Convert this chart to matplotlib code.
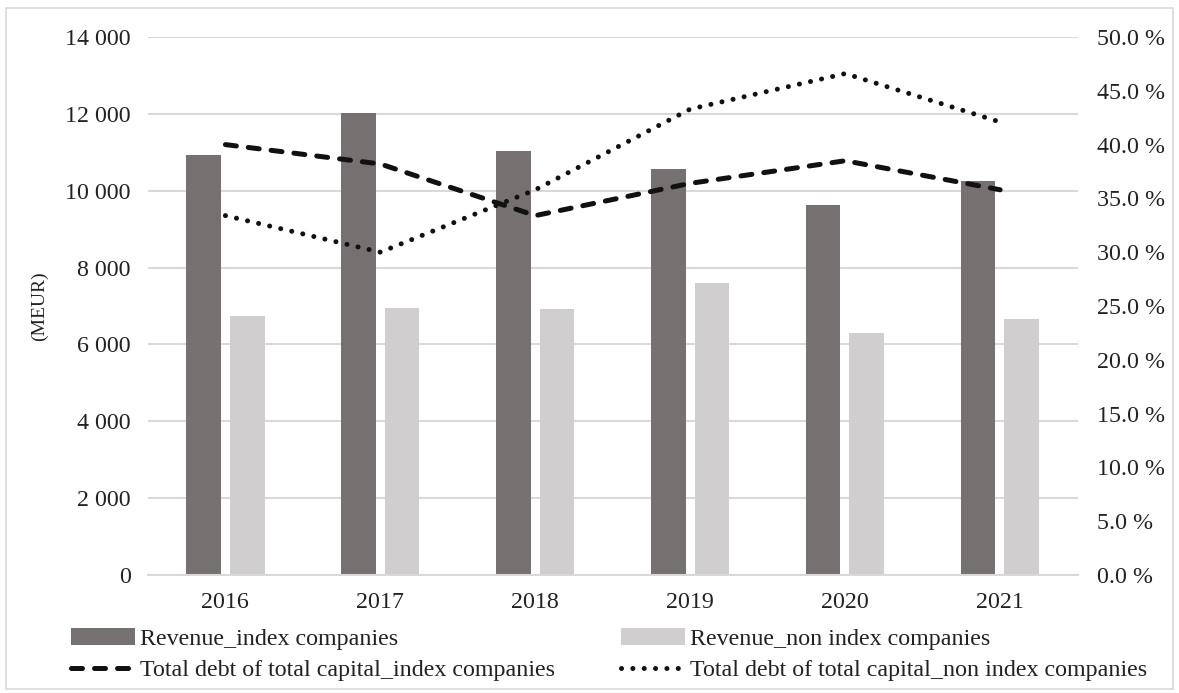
import numpy as np
import matplotlib
matplotlib.use("Agg")
from matplotlib import pyplot as plt
from matplotlib.ticker import FuncFormatter, MultipleLocator
from matplotlib.patches import Rectangle

plt.rcParams['font.family'] = ['Liberation Serif', 'DejaVu Serif']

# data
years = ['2016', '2017', '2018', '2019', '2020', '2021']
revenue_index = [10920, 12010, 11040, 10560, 9640, 10250]        # MEUR
revenue_non_index = [6730, 6940, 6910, 7610, 6300, 6670]         # MEUR
debt_index = [40.0, 38.2, 33.4, 36.4, 38.5, 35.8]                # %
debt_non_index = [33.4, 30.0, 35.8, 43.3, 46.6, 42.1]            # %

dark = '#767171'
light = '#d0cece'
grid_col = '#d9d9d9'
txt = '#222222'
fs = 17.3

fig = plt.figure(figsize=(11.79, 6.93), dpi=100)
ax = fig.add_axes([0.1255, 0.1703, 0.7885, 0.7763])
ax2 = ax.twinx()

x = np.arange(len(years))
w = 0.225
b1 = ax.bar(x - 0.143, revenue_index, w, color=dark, zorder=2,
            label='Revenue_index companies')
b2 = ax.bar(x + 0.14, revenue_non_index, w, color=light, zorder=2,
            label='Revenue_non index companies')

l1, = ax2.plot(x, debt_index, color='#111111', lw=3.6, dashes=(2.2, 2.4),
               dash_capstyle='round', label='Total debt of total capital_index companies')
l2, = ax2.plot(x, debt_non_index, color='#111111', lw=3.6, dashes=(0.01, 2.26),
               dash_capstyle='round', label='Total debt of total capital_non index companies')

ax.set_xlim(-0.5, len(years) - 0.5)
ax.set_ylim(0, 14000)
ax2.set_ylim(0, 50)
ax.yaxis.set_major_locator(MultipleLocator(2000))
ax2.yaxis.set_major_locator(MultipleLocator(5))
ax.yaxis.set_major_formatter(FuncFormatter(lambda v, p: f"{int(v):,}".replace(",", " ")))
ax2.yaxis.set_major_formatter(FuncFormatter(lambda v, p: f"{v:.1f} %"))

ax.set_xticks(x)
ax.set_xticklabels(years)
ax.grid(axis='y', color=grid_col, lw=1.5, zorder=0)
ax.set_axisbelow(True)

for a in (ax, ax2):
    for s in a.spines.values():
        s.set_visible(False)
    a.tick_params(length=0, labelsize=fs, colors=txt)
ax.spines['bottom'].set_visible(True)
ax.spines['bottom'].set_color(grid_col)
ax.spines['bottom'].set_linewidth(1.5)
ax.tick_params(axis='y', pad=12.5)
ax.tick_params(axis='x', pad=12)
ax2.tick_params(axis='y', pad=14)

ax.set_ylabel('(MEUR)', fontsize=14, color=txt, labelpad=12)

# legend: row 1 = bars, row 2 = lines
fig.legend(handles=[b1, l1, b2, l2], loc='upper left', ncol=2,
           bbox_to_anchor=(0.052, 0.107), frameon=False, fontsize=fs,
           handlelength=2.67, handletextpad=0.2, columnspacing=2.75,
           labelspacing=0.38, borderaxespad=0, labelcolor=txt)

fig.patches.append(Rectangle((0.005, 0.006), 0.99, 0.982, transform=fig.transFigure,
                             fill=False, edgecolor=grid_col, lw=1.2))

fig.savefig('out.png', dpi=100)
